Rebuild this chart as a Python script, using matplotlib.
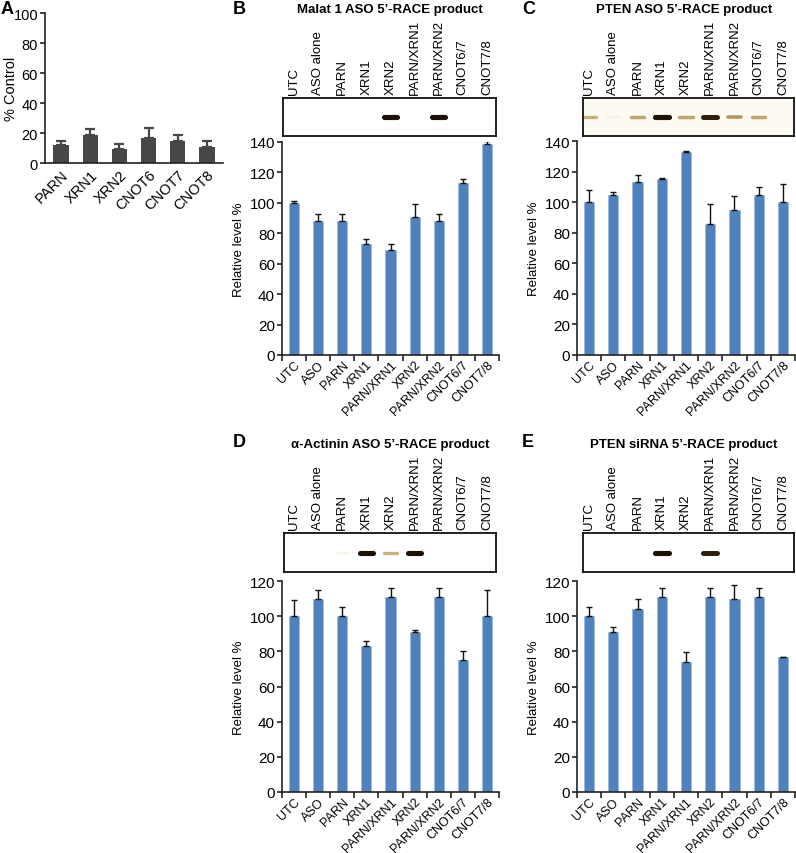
import numpy as np
import matplotlib.pyplot as plt
from matplotlib.colors import LinearSegmentedColormap

plt.rcParams['font.family'] = ['Liberation Sans', 'DejaVu Sans']

W, H = 796, 854

# Panel A - knockdown efficiency
ko_labels = ["PARN", "XRN1", "XRN2", "CNOT6", "CNOT7", "CNOT8"]
ko_mean = [12, 18.5, 9.5, 17, 15, 11]
ko_top = [15, 22.5, 12.5, 23.5, 19, 14.5]

bar_labels = ["UTC", "ASO", "PARN", "XRN1", "PARN/XRN1", "XRN2",
              "PARN/XRN2", "CNOT6/7", "CNOT7/8"]
gel_labels = ["UTC", "ASO alone", "PARN", "XRN1", "XRN2", "PARN/XRN1",
              "PARN/XRN2", "CNOT6/7", "CNOT7/8"]

# Panel B - Malat 1 ASO
malat_mean = [100, 88, 88, 73, 69, 91, 88, 113, 139]
malat_top = [101, 93, 93, 76, 73, 99, 93, 116, 140.5]
malat_gel = [0, 0, 0, 0, 1.0, 0, 1.0, 0, 0]

# Panel C - PTEN ASO
pten_mean = [100, 105, 113, 115, 133, 86, 95, 105, 100]
pten_top = [108, 106.5, 118, 115.5, 133.5, 98.5, 104, 110, 112]
pten_gel = [0.4, 0.08, 0.45, 1.0, 0.45, 0.95, 0.5, 0.45, 0]

# Panel D - alpha-actinin ASO
actn_mean = [100, 110, 100, 83, 111, 91, 111, 75, 100]
actn_top = [109, 115, 105, 86, 116, 92, 116, 80, 115]
actn_gel = [0, 0, 0.06, 1.0, 0.4, 1.0, 0, 0, 0]

# Panel E - PTEN siRNA
sirna_mean = [100, 91, 104, 111, 74, 111, 110, 111, 76.5]
sirna_top = [105, 94, 110, 116, 79.5, 116, 118, 116, 77]
sirna_gel = [0, 0, 0, 1.0, 0, 0.95, 0, 0, 0]

BLUE = '#4f81bd'
band_cmap = LinearSegmentedColormap.from_list(
    'band', ['#ffffff', '#d8c48c', '#8c6c30', '#1e1206'])


def rect(l, r, top, bot):
    return [l / W, 1 - bot / H, (r - l) / W, (bot - top) / H]


def style_axes(ax, size):
    for s in ['top', 'right']:
        ax.spines[s].set_visible(False)
    for s in ['left', 'bottom']:
        ax.spines[s].set_linewidth(1.2)
        ax.spines[s].set_color('#222222')
    ax.tick_params(axis='y', length=3.5, width=1.2, labelsize=size, pad=1.5,
                   color='#222222')


def bar_panel(pos, mean, top, ymax, step):
    ax = fig.add_axes(rect(*pos))
    x = np.arange(len(mean))
    err = np.array(top) - np.array(mean)
    ax.bar(x, mean, width=0.42, color=BLUE, edgecolor='#9bbbe0',
           linewidth=0.6, zorder=2)
    ax.errorbar(x, mean, yerr=[np.zeros(len(mean)), err], fmt='none',
                ecolor='#111111', elinewidth=1, capsize=2.5, capthick=1,
                zorder=3)
    ax.set_xlim(-0.5, len(mean) - 0.5)
    ax.set_ylim(0, ymax)
    ax.set_yticks(np.arange(0, ymax + 1, step))
    ax.set_xticks(x)
    ax.set_xticklabels(bar_labels, rotation=45, ha='right',
                       rotation_mode='anchor', fontsize=9)
    ax.set_xticks(np.arange(-0.5, len(mean)), minor=True)
    ax.tick_params(axis='x', which='major', length=0, pad=2.5)
    ax.tick_params(axis='x', which='minor', length=4, width=1.2,
                   color='#222222')
    style_axes(ax, 11)
    ax.set_ylabel("Relative level %", fontsize=9.5, labelpad=3)
    return ax


def gel_panel(pos, bar_left, bar_right, bands):
    l, r, t, b = pos
    ax = fig.add_axes(rect(l, r, t, b))
    n = len(bands)
    unit = (bar_right - bar_left) / n
    ax.set_xlim(-0.5 + (l - bar_left) / unit, -0.5 + (r - bar_left) / unit)
    ax.set_ylim(0, 1)
    for i, v in enumerate(bands):
        if v <= 0:
            continue
        ax.plot([i - 0.28, i + 0.28], [0.5, 0.5], color=band_cmap(v),
                lw=1.5 + 2.2 * v, solid_capstyle='round')
    for i, lab in enumerate(gel_labels):
        ax.text(i, 1.1, lab, rotation=90, ha='center', va='bottom',
                fontsize=9.5, transform=ax.get_xaxis_transform())
    ax.set_xticks([])
    ax.set_yticks([])
    for s in ax.spines.values():
        s.set_linewidth(1.3)
        s.set_color('#111111')
    return ax


fig = plt.figure(figsize=(W / 100, H / 100), dpi=100)

# A
axA = fig.add_axes(rect(45, 223, 14, 164))
xa = np.arange(len(ko_mean))
ko_err = np.array(ko_top) - np.array(ko_mean)
axA.bar(xa, ko_mean, width=0.52, color='#474747', zorder=2)
axA.errorbar(xa, ko_mean, yerr=[np.zeros(len(xa)), ko_err], fmt='none',
             ecolor='#474747', elinewidth=1.6, capsize=3.5, capthick=1.6)
axA.set_xlim(-0.55, len(xa) - 0.45)
axA.set_ylim(0, 100)
axA.set_yticks(np.arange(0, 101, 20))
axA.set_xticks(xa)
axA.set_xticklabels(ko_labels, rotation=45, ha='right',
                    rotation_mode='anchor', fontsize=10.5)
axA.tick_params(axis='x', length=0, pad=3)
style_axes(axA, 10.5)
axA.set_ylabel("% Control", fontsize=10.5)
axA.yaxis.set_label_coords(-0.15, 0.5)

# B - E
bar_panel((282, 499, 143, 356), malat_mean, malat_top, 140, 20)
gel_panel((283, 496, 99, 137), 282, 499, malat_gel)
bar_panel((577, 795, 142, 356), pten_mean, pten_top, 140, 20)
axC_gel = gel_panel((583, 794, 99, 137), 577, 795, pten_gel)
axC_gel.set_facecolor('#fcfaf2')
bar_panel((282, 499, 582, 793), actn_mean, actn_top, 120, 20)
gel_panel((284, 496, 534, 573), 282, 499, actn_gel)
bar_panel((577, 795, 582, 793), sirna_mean, sirna_top, 120, 20)
gel_panel((583, 794, 534, 573), 577, 795, sirna_gel)

# titles and panel letters
titles = [("Malat 1 ASO 5\u2019-RACE product", 390, 10),
          ("PTEN ASO 5\u2019-RACE product", 684, 10),
          ("\u03b1-Actinin ASO 5\u2019-RACE product", 390, 445),
          ("PTEN siRNA 5\u2019-RACE product", 684, 445)]
for t, x, y in titles:
    fig.text(x / W, 1 - y / H, t, ha='center', va='center', fontsize=9.5,
             fontweight='bold')
letters = [("A", 1, 10), ("B", 233, 10), ("C", 522, 10),
           ("D", 233, 443), ("E", 522, 443)]
for t, x, y in letters:
    fig.text(x / W, 1 - y / H, t, ha='left', va='center', fontsize=13,
             fontweight='bold')

fig.savefig('out.png', dpi=100)
